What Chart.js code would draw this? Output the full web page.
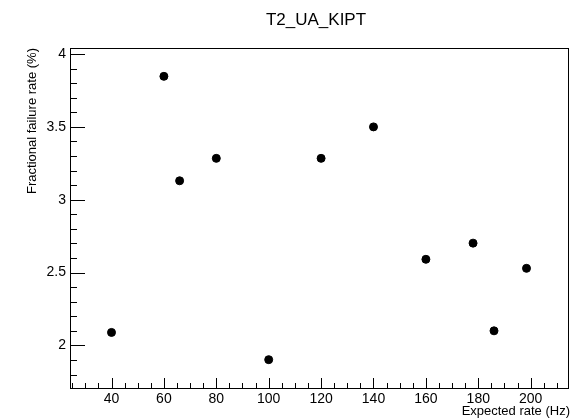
<!DOCTYPE html>
<html>
<head>
  <meta charset="UTF-8">
  <title>T2_UA_KIPT</title>
  <script src="https://cdn.jsdelivr.net/npm/chart.js"></script>
  <style>
    body { margin: 0; padding: 0; background: white; }
    #wrap { width: 573px; height: 420px; }
  </style>
</head>
<body>
  <div id="wrap"><canvas id="graph"></canvas></div>
  <script>
    // expected rate (Hz) and fractional failure rate (%)
    const rates    = [40, 60, 66, 80, 100, 120, 140, 160, 178, 186, 198.4];
    const failures = [2.089, 3.847, 3.13, 3.284, 1.902, 3.284, 3.5, 2.591, 2.702, 2.10, 2.529];

    const xTicks = [40, 60, 80, 100, 120, 140, 160, 180, 200];
    const yTicks = [2, 2.5, 3, 3.5, 4];

    const FONT = "'Liberation Sans', Arial, sans-serif";

    // ROOT-style frame with inward ticks, titles
    const rootFrame = {
      id: 'rootFrame',
      afterDraw(chart) {
        const c = chart.ctx, a = chart.chartArea;
        const xs = chart.scales.x, ys = chart.scales.y;
        c.save();
        c.strokeStyle = '#000';
        c.lineWidth = 1;
        c.strokeRect(a.left + 0.5, a.top + 0.5, a.right - a.left, a.bottom - a.top);

        c.beginPath();
        for (let v = 25; v <= xs.max; v += 5) {
          const px = Math.round(xs.getPixelForValue(v)) + 0.5;
          const len = v % 20 === 0 ? 10 : 5;
          c.moveTo(px, a.bottom);
          c.lineTo(px, a.bottom - len);
        }
        for (let i = 18; i <= 40; i++) {
          const py = Math.round(ys.getPixelForValue(i / 10)) + 0.5;
          const len = i % 5 === 0 ? 15 : 7;
          c.moveTo(a.left, py);
          c.lineTo(a.left + len, py);
        }
        c.stroke();

        c.fillStyle = '#000';
        c.font = '17px ' + FONT;
        c.textAlign = 'center';
        c.textBaseline = 'alphabetic';
        c.fillText('T2_UA_KIPT', 316, 25);

        c.font = '13px ' + FONT;
        c.textAlign = 'right';
        c.fillText('Expected rate (Hz)', 570, 415);

        c.translate(36, 48);
        c.rotate(-Math.PI / 2);
        c.textAlign = 'right';
        c.textBaseline = 'alphabetic';
        c.fillText('Fractional failure rate (%)', 0, 0);
        c.restore();
      }
    };

    new Chart(document.getElementById('graph'), {
      type: 'scatter',
      data: {
        datasets: [{
          data: rates.map((r, i) => ({ x: r, y: failures[i] })),
          backgroundColor: '#000',
          borderColor: '#000',
          pointRadius: 4,
          pointHoverRadius: 4
        }]
      },
      options: {
        responsive: true,
        maintainAspectRatio: false,
        animation: false,
        layout: { padding: { top: 48, right: 3, left: 0, bottom: 0 } },
        plugins: { legend: { display: false }, tooltip: { enabled: false } },
        scales: {
          x: {
            type: 'linear',
            min: 24.16,
            max: 214.24,
            afterBuildTicks: s => { s.ticks = xTicks.map(v => ({ value: v })); },
            afterFit: s => { s.height = 32; },
            grid: { display: false, drawTicks: false },
            border: { display: false },
            ticks: { color: '#000', font: { family: FONT, size: 14 }, padding: 3, maxRotation: 0,
                     callback: v => String(v) }
          },
          y: {
            min: 1.7075,
            max: 4.0415,
            afterBuildTicks: s => { s.ticks = yTicks.map(v => ({ value: v })); },
            afterFit: s => { s.width = 70; },
            grid: { display: false, drawTicks: false },
            border: { display: false },
            ticks: { color: '#000', font: { family: FONT, size: 14 }, padding: 4,
                     callback: v => String(v) }
          }
        }
      },
      plugins: [rootFrame]
    });
  </script>
</body>
</html>
